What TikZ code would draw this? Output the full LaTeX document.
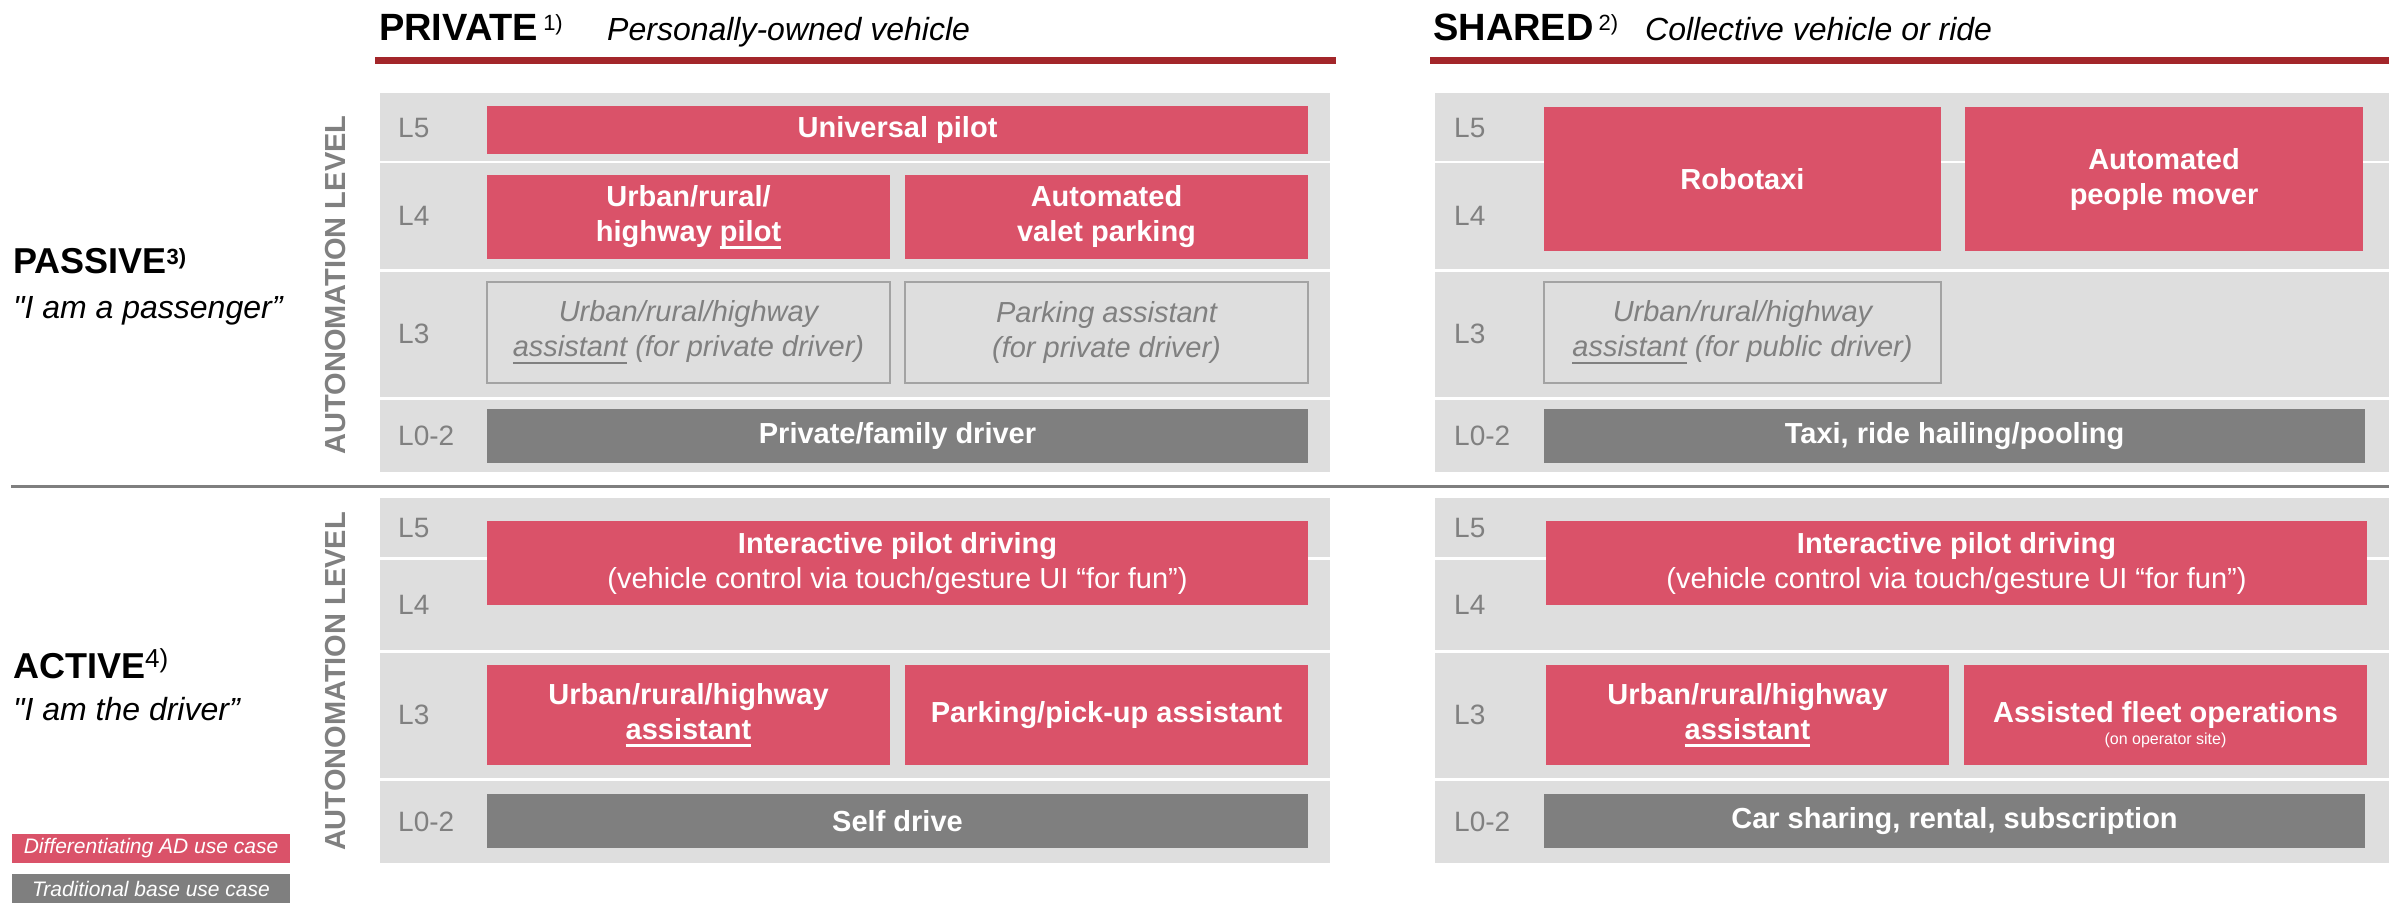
\documentclass[tikz,border=0pt]{standalone}
\usepackage{fontspec}
\setmainfont{Liberation Sans}[Ligatures=TeXOff]
\definecolor{ucred}{HTML}{DA5269}
\definecolor{basegray}{HTML}{7F7F7F}
\definecolor{panelgray}{HTML}{DEDEDE}
\definecolor{textgray}{HTML}{808080}
\definecolor{ghostline}{HTML}{A3A3A3}
\definecolor{hdrred}{HTML}{A3262A}
\newcommand{\fsz}[2]{\fontsize{#1}{#2}\selectfont}
\newcommand{\ulx}[1]{\setbox0\hbox{#1}\rlap{\rule[-0.27em]{\wd0}{0.1em}}\box0\relax}
\newcommand{\sups}[3]{{\mdseries\fontsize{#1}{#1}\selectfont\raisebox{#2pt}{#3}}}
\tikzset{
  boxbase/.style={inner sep=0pt, outer sep=0pt, anchor=north west, align=center},
  ucbox/.style={boxbase, fill=ucred, text=white, font=\fsz{29}{35}\bfseries},
  basebox/.style={boxbase, fill=basegray, text=white, font=\fsz{29}{35}\bfseries},
  ghostbox/.style={boxbase, draw=ghostline, line width=2pt, text=textgray, font=\fsz{29}{35}\itshape},
  boxtext/.style={inner sep=0pt, align=center, text=white, font=\fsz{29}{35}\bfseries},
  panelrow/.style={fill=panelgray},
  lvl/.style={anchor=west, inner sep=0pt, text=textgray, font=\fsz{28}{34}},
  axislbl/.style={rotate=90, inner sep=0pt, text=textgray, font=\fsz{29}{34}\bfseries},
  hdr/.style={anchor=base west, inner sep=0pt, font=\fsz{38}{42}\bfseries},
  hdrsub/.style={anchor=base west, inner sep=0pt, font=\fsz{32}{38}\itshape},
  hdrline/.style={fill=hdrred},
  side/.style={anchor=base west, inner sep=0pt, font=\fsz{36}{40}\bfseries},
  sidequote/.style={anchor=base west, inner sep=0pt, font=\fsz{32}{38}\itshape},
  legbox/.style={inner sep=0pt, outer sep=0pt, minimum width=278pt, minimum height=29pt, text=white, font=\fsz{21}{25}\itshape},
  sepline/.style={draw=basegray, line width=2.5pt},
}
\begin{document}
\begin{tikzpicture}[x=1pt,y=-1pt]
\useasboundingbox (0,0) rectangle (2389,903);

% ---------- headers
\node[hdr] (privT) at (379,40) {PRIVATE\hspace{5pt}\sups{22}{10}{1)}};
\node[hdrsub] (privS) at (607,40) {Personally-owned vehicle};
\fill[hdrline] (375,56.5) rectangle (1336,63.5);
\node[hdr] (shT) at (1433,40) {SHARED\hspace{5pt}\sups{22}{10}{2)}};
\node[hdrsub] (shS) at (1645,40) {Collective vehicle or ride};
\fill[hdrline] (1430,56.5) rectangle (2389,63.5);

% ---------- side labels
\node[side] (passive) at (13,273) {PASSIVE{\fsz{22}{22}\raisebox{9pt}{3)}}};
\node[sidequote] (passq) at (13,318) {"I am a passenger”};
\node[side] (active) at (13,678) {ACTIVE\sups{26}{11}{4)}};
\node[sidequote] (actq) at (13,720) {"I am the driver”};

\draw[sepline] (11,486.5) -- (2389,486.5);

% ---------- panel rows
\foreach \xa/\xb in {380/1330, 1435/2389}{
  \fill[panelrow] (\xa,93) rectangle (\xb,160.5);
  \fill[panelrow] (\xa,163) rectangle (\xb,269);
  \fill[panelrow] (\xa,271.5) rectangle (\xb,397);
  \fill[panelrow] (\xa,400) rectangle (\xb,472);
  \fill[panelrow] (\xa,498) rectangle (\xb,557);
  \fill[panelrow] (\xa,560) rectangle (\xb,650);
  \fill[panelrow] (\xa,652.5) rectangle (\xb,778);
  \fill[panelrow] (\xa,780.5) rectangle (\xb,863);
}

% ---------- axis labels
\node[axislbl] (axP) at (336,285) {AUTONOMATION LEVEL};
\node[axislbl] (axA) at (336,681.5) {AUTONOMATION LEVEL};

% ---------- level labels
\node[lvl] (pp5) at (398,128) {L5};
\node[lvl] (pp4) at (398,216) {L4};
\node[lvl] (pp3) at (398,334) {L3};
\node[lvl] (pp0) at (398,436) {L0-2};
\node[lvl] (ps5) at (1454,128) {L5};
\node[lvl] (ps4) at (1454,216) {L4};
\node[lvl] (ps3) at (1454,334) {L3};
\node[lvl] (ps0) at (1454,436) {L0-2};
\node[lvl] (ap5) at (398,528) {L5};
\node[lvl] (ap4) at (398,605) {L4};
\node[lvl] (ap3) at (398,715) {L3};
\node[lvl] (ap0) at (398,821.5) {L0-2};
\node[lvl] (as5) at (1454,528) {L5};
\node[lvl] (as4) at (1454,605) {L4};
\node[lvl] (as3) at (1454,715) {L3};
\node[lvl] (as0) at (1454,821.5) {L0-2};

% ---------- passive / private
\node[ucbox, minimum width=821pt, minimum height=48pt] (univ) at (487,106) {Universal pilot};
\node[ucbox, minimum width=403pt, minimum height=84pt] (urbpilot) at (487,175) {Urban/rural/\\highway \ulx{pilot}};
\node[ucbox, minimum width=403pt, minimum height=84pt] (valet) at (905,175) {Automated\\valet parking};
\node[ghostbox, minimum width=403pt, minimum height=101pt] (ghA) at (487,282) {Urban/rural/highway\\\ulx{assistant} (for private driver)};
\node[ghostbox, minimum width=403pt, minimum height=101pt] (ghB) at (905,282) {Parking assistant\\(for private driver)};
\node[basebox, minimum width=821pt, minimum height=54pt] (famdrv) at (487,409) {Private/family driver};

% ---------- passive / shared
\node[ucbox, minimum width=397pt, minimum height=144pt] (robotaxi) at (1544,107) {Robotaxi};
\node[ucbox, minimum width=398pt, minimum height=144pt] (mover) at (1965,107) {Automated\\people mover};
\node[ghostbox, minimum width=397pt, minimum height=101pt] (ghC) at (1544,282) {Urban/rural/highway\\\ulx{assistant} (for public driver)};
\node[basebox, minimum width=821pt, minimum height=54pt] (taxi) at (1544,409) {Taxi, ride hailing/pooling};

% ---------- active / private
\node[ucbox, minimum width=821pt, minimum height=84pt] (interA) at (487,521) {Interactive pilot driving\\{\mdseries (vehicle control via touch/gesture UI “for fun”)}};
\node[ucbox, minimum width=403pt, minimum height=100pt] (urbA) at (487,665) {Urban/rural/highway\\\ulx{assistant}};
\node[ucbox, minimum width=403pt, minimum height=100pt] (parkA) at (905,665) {Parking/pick-up assistant};
\node[basebox, minimum width=821pt, minimum height=54pt] (selfdrv) at (487,794) {Self drive};

% ---------- active / shared
\node[ucbox, minimum width=821pt, minimum height=84pt] (interS) at (1546,521) {Interactive pilot driving\\{\mdseries (vehicle control via touch/gesture UI “for fun”)}};
\node[ucbox, minimum width=403pt, minimum height=100pt] (urbS) at (1546,665) {Urban/rural/highway\\\ulx{assistant}};
\node[ucbox, minimum width=403pt, minimum height=100pt] (fleet) at (1964,665) {};
\node[boxtext] (fleetT) at ([yshift=-10pt]fleet.center) {Assisted fleet operations\\[-13pt]{\mdseries\fsz{16}{19}(on operator site)}};
\node[basebox, minimum width=821pt, minimum height=54pt] (carshare) at (1544,794) {Car sharing, rental, subscription};

% ---------- legend
\node[legbox, fill=ucred] (legA) at (151,848.5) {Differentiating AD use case};
\node[legbox, fill=basegray] (legB) at (151,888.5) {Traditional base use case};
\end{tikzpicture}
\end{document}
